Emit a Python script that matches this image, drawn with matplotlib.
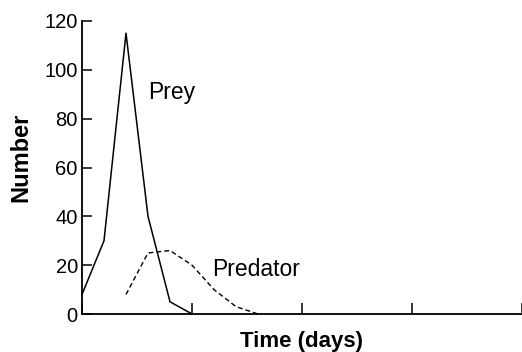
import matplotlib
matplotlib.use("Agg")
import matplotlib.pyplot as plt

plt.rcParams['font.family'] = ['Liberation Sans', 'DejaVu Sans']

time_prey = [0.0, 0.2, 0.4, 0.6, 0.8, 1.0]
prey = [8, 30, 115, 40, 5, 0]
time_pred = [0.4, 0.6, 0.8, 1.0, 1.2, 1.4, 1.6]
predator = [8, 25, 26, 20, 10, 3, 0]
yticks = [0, 20, 40, 60, 80, 100, 120]
xticks = [0, 1, 2, 3, 4]

fig = plt.figure(figsize=(5.22, 3.52), dpi=100)
ax = fig.add_axes([82/522, 1-314/352, 1-82/522, (314-21)/352])

ax.plot(time_prey, prey, color='black', lw=1.1, clip_on=False)
ax.plot(time_pred, predator, color='black', lw=1.0, linestyle=(0, (3.5, 2.2)), clip_on=False)

ax.set_xlim(0, 4)
ax.set_ylim(0, 120)
ax.set_yticks(yticks)
ax.set_xticks(xticks)
ax.set_xticklabels([])
ax.tick_params(axis='both', direction='in', length=7, width=1.1, labelsize=14.5, pad=3)
ax.tick_params(axis='x', length=8)
for s in ['top', 'right']:
    ax.spines[s].set_visible(False)
for s in ['left', 'bottom']:
    ax.spines[s].set_linewidth(1.3)

ax.text(0.6, 88, 'Prey', fontsize=16.5, va='baseline', ha='left')
ax.text(1.18, 15.6, 'Predator', fontsize=16.5, va='baseline', ha='left')

ax.set_xlabel('Time (days)', fontsize=16, fontweight='bold', labelpad=9)
ax.set_ylabel('Number', fontsize=17, fontweight='bold')
ax.yaxis.set_label_coords(-0.112, 0.535)

fig.savefig('out.png', dpi=100)
